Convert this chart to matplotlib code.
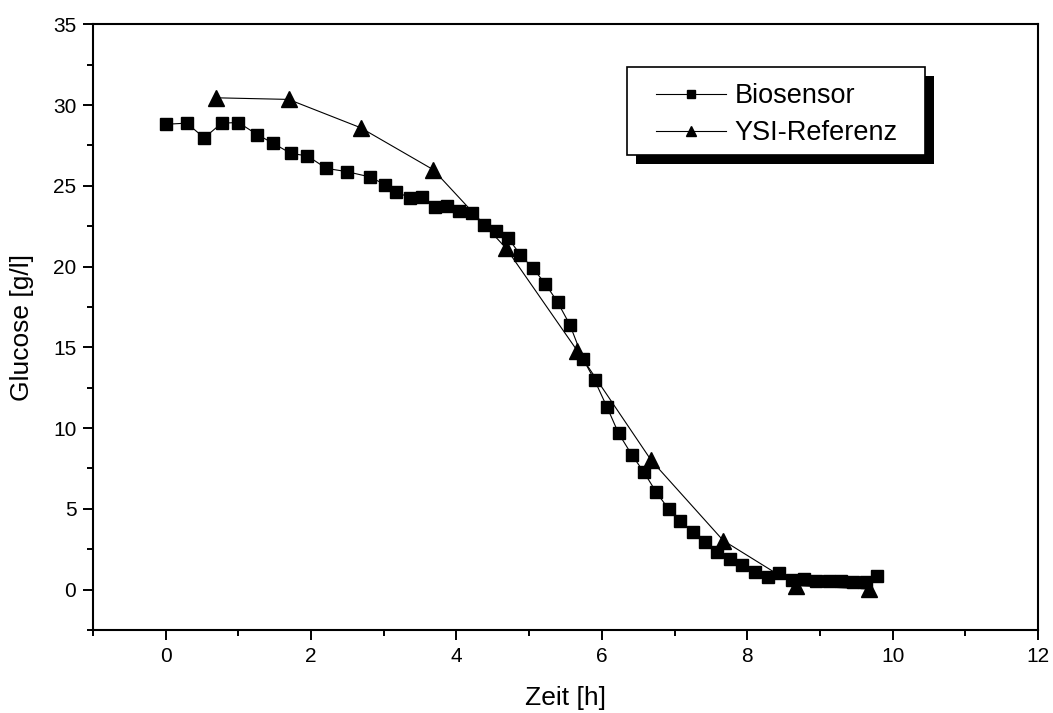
import matplotlib
matplotlib.use("Agg")
import matplotlib.pyplot as plt
from matplotlib.ticker import MultipleLocator
from matplotlib.patches import Rectangle

plt.rcParams['font.family'] = ['Liberation Sans', 'DejaVu Sans']

# Biosensor data
bio_t = [0.00, 0.29, 0.53, 0.77, 1.00, 1.26, 1.48, 1.72, 1.95, 2.21, 2.49, 2.81,
         3.02, 3.17, 3.36, 3.52, 3.70, 3.87, 4.04, 4.21, 4.38, 4.54, 4.71, 4.88,
         5.05, 5.22, 5.39, 5.56, 5.74, 5.90, 6.07, 6.23, 6.41, 6.58, 6.75, 6.92,
         7.08, 7.26, 7.42, 7.59, 7.76, 7.93, 8.10, 8.28, 8.44, 8.61, 8.78, 8.95,
         9.12, 9.29, 9.46, 9.63, 9.79]
bio_g = [28.81, 28.88, 27.97, 28.88, 28.92, 28.17, 27.63, 27.01, 26.85, 26.08, 25.88, 25.55,
         25.07, 24.64, 24.25, 24.28, 23.71, 23.77, 23.46, 23.29, 22.57, 22.22, 21.76, 20.73,
         19.90, 18.95, 17.81, 16.40, 14.30, 12.97, 11.31, 9.68, 8.36, 7.26, 6.02, 4.98,
         4.22, 3.54, 2.96, 2.31, 1.92, 1.53, 1.12, 0.81, 1.05, 0.60, 0.64, 0.54,
         0.54, 0.54, 0.45, 0.45, 0.85]

# YSI reference data
ysi_t = [0.69, 1.69, 2.68, 3.68, 4.68, 5.66, 6.68, 7.67, 8.67, 9.67]
ysi_g = [30.45, 30.35, 28.6, 26.0, 21.15, 14.8, 8.0, 3.04, 0.25, 0.04]

W, H = 1053, 713
fig = plt.figure(figsize=(W / 100, H / 100), dpi=100)
ax = fig.add_axes([93 / W, 1 - 630 / H, (1038 - 93) / W, (630 - 24.3) / H])

ax.plot(bio_t, bio_g, color='black', linewidth=0.8, marker='s', markersize=9,
        markerfacecolor='black', markeredgecolor='black', label='Biosensor')
ax.plot(ysi_t, ysi_g, color='black', linewidth=0.8, marker='^', markersize=11,
        markerfacecolor='black', markeredgecolor='black', label='YSI-Referenz')

ax.set_xlim(-1, 12)
ax.set_ylim(-2.5, 35)
ax.xaxis.set_major_locator(MultipleLocator(2))
ax.xaxis.set_minor_locator(MultipleLocator(1))
ax.yaxis.set_major_locator(MultipleLocator(5))
ax.yaxis.set_minor_locator(MultipleLocator(2.5))
ax.tick_params(which='major', direction='out', length=7, width=1.4, labelsize=15, pad=5)
ax.tick_params(which='minor', direction='out', length=4, width=1.4)
for sp in ax.spines.values():
    sp.set_linewidth(1.5)

ax.set_xlabel('Zeit [h]', fontsize=19, labelpad=15)
ax.set_ylabel('Glucose [g/l]', fontsize=19, labelpad=14)

# legend frame with solid shadow (figure pixel layout)
def px_rect(x0, y0, x1, y1, **kw):
    return Rectangle((x0 / W, 1 - y1 / H), (x1 - x0) / W, (y1 - y0) / H,
                     transform=fig.transFigure, clip_on=False, **kw)

ax.add_patch(px_rect(636, 76, 934, 164, facecolor='black', edgecolor='black',
                     linewidth=0, zorder=5))
ax.add_patch(px_rect(627, 67, 925, 155, facecolor='white', edgecolor='black',
                     linewidth=1.2, zorder=6))

leg = ax.legend(loc='upper left', bbox_to_anchor=(656 / W, 1 - 83 / H),
                bbox_transform=fig.transFigure, borderaxespad=0,
                fontsize=19.5, frameon=False,
                handlelength=2.6, handletextpad=0.3, borderpad=0,
                labelspacing=0.42, markerscale=0.65)
leg.set_zorder(10)

fig.savefig('out.png', dpi=100)
